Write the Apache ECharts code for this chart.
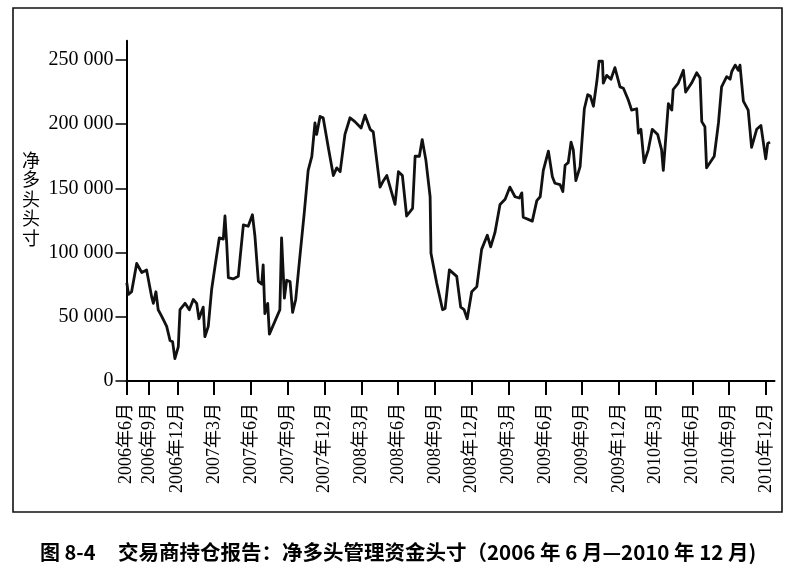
<!DOCTYPE html>
<html>
<head>
<meta charset="utf-8">
<script src="https://cdn.jsdelivr.net/npm/echarts@6/dist/echarts.min.js"></script>
<style>
  html, body { margin: 0; padding: 0; background: #fff; }
  #chart { width: 801px; height: 581px; }
</style>
</head>
<body>
<div id="chart"></div>
<script>
// x position of each reading, in weeks from 2006-06
var weekPos = [
  0.1, 0.7, 1.8, 3.6, 5.4, 7.1, 8.9, 9.5, 10.4, 11.2, 12.4, 14.2, 15.4, 16.3, 17.1, 18.3, 18.9,
  20.7, 22.2, 23.6, 24.8, 25.6, 26.2, 27.1, 27.7, 28.9, 30.1, 31.3, 32.8, 34.2, 34.8, 35.4, 36.0,
  37.7, 39.5, 41.3, 43.0, 44.5, 45.4, 46.6, 47.8, 48.3, 48.9, 49.9, 50.5, 54.2, 54.8, 55.8, 56.6,
  57.8, 58.7, 59.8, 61.3, 62.8, 64.2, 65.5, 66.6, 67.2, 68.4, 69.5, 71.3, 73.1, 74.3, 75.5, 77.2,
  79.0, 80.7, 82.9, 84.3, 86.1, 87.2, 89.6, 90.8, 92.0, 94.9, 96.1, 97.5, 99.0, 101.1, 102.0, 103.5,
  104.5, 105.8, 107.3, 107.6, 109.6, 111.7, 112.6, 114.1, 116.7, 118.1, 119.3, 120.4, 122.0, 123.8,
  125.5, 127.5, 128.7, 130.2, 132.0, 133.8, 135.5, 137.3, 138.8, 139.7, 140.2, 143.4, 145.0, 146.2,
  147.3, 149.1, 150.5, 151.4, 153.2, 154.2, 155.0, 156.1, 157.1, 157.9, 158.8, 160.3, 161.8, 163.0,
  163.9, 165.0, 166.2, 167.0, 168.2, 168.5, 169.7, 171.2, 172.6, 174.4, 175.6, 177.3, 178.5, 180.3,
  180.9, 181.8, 182.9, 184.4, 185.8, 187.7, 189.1, 189.7, 191.5, 192.7, 193.2, 195.0, 196.8, 197.6,
  199.7, 201.5, 202.7, 203.3, 204.4, 205.0, 207.7, 209.2, 210.3, 212.1, 213.3, 213.9, 215.1, 216.2,
  216.8, 218.0, 219.7, 220.9, 222.7, 224.2, 225.9, 226.6, 227.4
];

// net long position of managed money
var netLong = [
  76500, 67500, 69500, 91500, 84500, 86500, 65500, 60500, 69500, 55500, 50500, 42500, 31500, 30500, 17500, 26500, 55500,
  60500, 55500, 63500, 60500, 48500, 48000, 57500, 34500, 42500, 71500, 89500, 111500, 110500, 128500, 107500, 80500,
  79500, 81500, 121500, 120500, 129500, 112500, 77500, 75500, 90500, 52500, 60500, 36500, 55500, 111500, 64500, 78500,
  77500, 53500, 63500, 97500, 130500, 164000, 175000, 201000, 192000, 206000, 205000, 182000, 160000, 166000, 163000, 192000,
  205000, 202000, 197000, 207000, 196000, 194000, 151000, 156000, 160000, 137500, 163000, 160000, 128500, 134500, 175000, 175000,
  188000, 172000, 143500, 99500, 76500, 55500, 56500, 86500, 81500, 57500, 55500, 48500, 69500, 73500,
  102500, 113500, 104500, 115500, 137500, 141500, 151000, 143500, 142500, 146500, 127500, 124500, 140500, 143500,
  164000, 179000, 159000, 154000, 153000, 147500, 168000, 170000, 186000, 180000, 156000, 167000, 212000, 223000,
  222000, 214000, 233000, 249000, 249000, 232000, 238000, 235000, 244000, 229000, 228000, 219000, 211000, 212000,
  193000, 196000, 170000, 180000, 196000, 192000, 180000, 164000, 216000, 211000, 227000, 232000, 242000, 225000,
  232000, 240000, 236000, 202000, 198000, 166000, 175000, 201000, 229000, 237000, 235000, 241000, 246000, 242000,
  246000, 218000, 211000, 182000, 196000, 199000, 173000, 185000, 186000
];

// x axis ticks (weeks) and their labels
var xTicks = [0, 8, 18, 31, 44, 57, 70, 83, 96, 109, 122, 135, 148, 161, 174, 187, 200, 213, 226];
var xTickLabels = [
  '2006年6月', '2006年9月', '2006年12月', '2007年3月', '2007年6月', '2007年9月', '2007年12月',
  '2008年3月', '2008年6月', '2008年9月', '2008年12月', '2009年3月', '2009年6月', '2009年9月',
  '2009年12月', '2010年3月', '2010年6月', '2010年9月', '2010年12月'
];

var yTicks = [0, 50000, 100000, 150000, 200000, 250000];
var yTickLabels = ['0', '50 000', '100 000', '150 000', '200 000', '250 000'];

var serif = '"Liberation Serif", "DejaVu Serif", "Noto Sans CJK SC", serif';
var cjk = '"Noto Sans CJK SC", sans-serif';

var chart = echarts.init(document.getElementById('chart'), null, { renderer: 'canvas' });

var option = {
  animation: false,
  backgroundColor: '#fff',
  grid: {
    left: 126.5,
    right: 26.5,
    top: 40.7,
    bottom: 200,
    containLabel: false,
    outerBoundsMode: 'none'
  },
  xAxis: {
    type: 'value',
    min: 0,
    max: 229,
    axisLine: { show: true, lineStyle: { color: '#000', width: 2 } },
    axisTick: {
      show: true,
      customValues: xTicks,
      length: 14,
      lineStyle: { color: '#000', width: 2 }
    },
    axisLabel: {
      customValues: xTicks,
      rotate: 90,
      margin: 22,
      fontSize: 18,
      fontFamily: serif,
      color: '#000',
      formatter: function (v) {
        var i = xTicks.indexOf(v);
        return i < 0 ? '' : xTickLabels[i];
      }
    },
    splitLine: { show: false }
  },
  yAxis: {
    type: 'value',
    min: 0,
    max: 265000,
    axisLine: { show: true, lineStyle: { color: '#000', width: 2 } },
    axisTick: {
      show: true,
      customValues: yTicks,
      length: 11,
      lineStyle: { color: '#000', width: 1.5 }
    },
    axisLabel: {
      customValues: yTicks,
      margin: 13,
      fontSize: 20,
      fontFamily: serif,
      color: '#000',
      formatter: function (v) {
        var i = yTicks.indexOf(v);
        return i < 0 ? '' : yTickLabels[i];
      }
    },
    splitLine: { show: false }
  },
  series: [
    {
      type: 'line',
      data: weekPos.map(function (w, i) { return [w, netLong[i]]; }),
      showSymbol: false,
      symbol: 'none',
      lineStyle: { color: '#111', width: 2.8, join: 'round' }
    }
  ],
  graphic: [
    {
      type: 'rect',
      shape: { x: 13, y: 8, width: 769, height: 504 },
      style: { fill: 'none', stroke: '#111', lineWidth: 1.6 },
      silent: true
    },
    {
      type: 'text',
      left: 22,
      top: 150,
      style: {
        text: '净\n多\n头\n头\n寸',
        font: '18px ' + cjk,
        lineHeight: 19.5,
        fill: '#000'
      }
    },
    {
      type: 'text',
      left: 40,
      top: 542,
      style: {
        text: '图 8-4',
        font: 'bold 20px ' + cjk,
        fill: '#000'
      }
    },
    {
      type: 'text',
      left: 118,
      top: 542,
      style: {
        text: '交易商持仓报告：净多头管理资金头寸（2006 年 6 月—2010 年 12 月)',
        font: 'bold 20.5px ' + cjk,
        fill: '#000'
      }
    }
  ]
};

chart.setOption(option);
</script>
</body>
</html>
